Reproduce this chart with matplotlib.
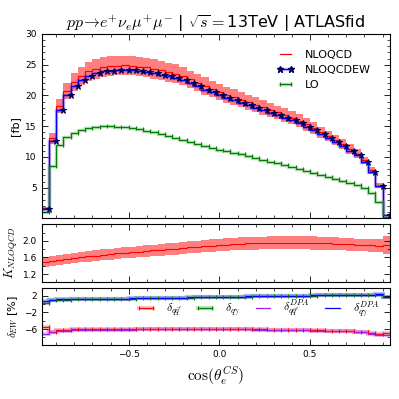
import numpy as np
import matplotlib
matplotlib.use("Agg")
import matplotlib.pyplot as plt
from matplotlib.lines import Line2D
from matplotlib.legend_handler import HandlerTuple
from matplotlib.ticker import MultipleLocator, FormatStrFormatter

plt.rcParams['mathtext.fontset'] = 'cm'
plt.rcParams['font.family'] = ['DejaVu Sans']

# ---------------- data ----------------
bin_edges = np.round(np.linspace(-0.98, 0.94, 49), 2)

nlo_qcd_ew = [1.5, 12.6, 17.7, 20.1, 21.5, 22.5, 23.2, 23.6, 23.9, 24.0, 24.1, 24.15,
              24.1, 24.0, 23.85, 23.65, 23.4, 23.15, 22.85, 22.5, 22.0, 21.5, 20.95, 20.5,
              20.0, 19.6, 19.2, 18.8, 18.4, 18.0, 17.6, 17.2, 16.8, 16.4, 15.95, 15.5,
              14.9, 14.4, 13.7, 13.1, 12.4, 11.8, 11.0, 10.3, 9.2, 7.6, 5.2, 0.5]

nlo_qcd = [1.7, 13.0, 18.3, 20.75, 22.2, 23.2, 23.95, 24.35, 24.65, 24.75, 24.85, 24.9,
           24.85, 24.7, 24.55, 24.35, 24.1, 23.8, 23.5, 23.15, 22.6, 22.1, 21.55, 21.05,
           20.55, 20.15, 19.75, 19.3, 18.9, 18.5, 18.05, 17.65, 17.25, 16.8, 16.35, 15.9,
           15.3, 14.75, 14.05, 13.45, 12.7, 12.1, 11.3, 10.55, 9.45, 7.8, 5.35, 0.55]

nlo_band_hi = [1.8, 13.85, 19.5, 22.1, 23.65, 24.7, 25.5, 25.95, 26.25, 26.35, 26.45, 26.5,
               26.45, 26.3, 26.15, 25.95, 25.65, 25.35, 25.05, 24.65, 24.05, 23.55, 22.95, 22.4,
               21.9, 21.45, 21.05, 20.55, 20.15, 19.7, 19.2, 18.8, 18.35, 17.9, 17.4, 16.95,
               16.3, 15.7, 14.95, 14.3, 13.5, 12.9, 12.05, 11.25, 10.05, 8.3, 5.7, 0.6]

nlo_band_lo = [1.6, 12.15, 17.1, 19.4, 20.75, 21.7, 22.4, 22.75, 23.05, 23.15, 23.25, 23.3,
               23.25, 23.1, 22.95, 22.75, 22.55, 22.25, 21.95, 21.65, 21.15, 20.65, 20.15, 19.7,
               19.2, 18.85, 18.45, 18.05, 17.65, 17.3, 16.9, 16.5, 16.15, 15.7, 15.3, 14.85,
               14.3, 13.8, 13.15, 12.6, 11.9, 11.3, 10.55, 9.85, 8.85, 7.3, 5.0, 0.5]

lo = [1.0, 8.6, 11.9, 13.2, 13.9, 14.4, 14.7, 14.9, 15.0, 15.0, 14.95, 14.85,
      14.7, 14.5, 14.3, 14.05, 13.7, 13.4, 13.1, 12.8, 12.45, 12.1, 11.8, 11.5,
      11.2, 10.95, 10.7, 10.4, 10.1, 9.85, 9.55, 9.25, 8.95, 8.65, 8.35, 8.05,
      7.7, 7.4, 7.05, 6.75, 6.4, 6.05, 5.7, 5.4, 4.9, 4.1, 2.7, 0.3]

k_factor = [1.49, 1.52, 1.545, 1.565, 1.585, 1.605, 1.625, 1.645, 1.665, 1.68, 1.695, 1.71,
            1.725, 1.74, 1.755, 1.77, 1.785, 1.80, 1.81, 1.825, 1.84, 1.855, 1.87, 1.885,
            1.90, 1.91, 1.92, 1.93, 1.94, 1.945, 1.95, 1.955, 1.96, 1.96, 1.96, 1.96,
            1.955, 1.95, 1.945, 1.94, 1.93, 1.925, 1.915, 1.905, 1.90, 1.89, 1.885, 1.90]

k_err = [0.12, 0.12, 0.12, 0.12, 0.125, 0.125, 0.125, 0.13, 0.13, 0.13, 0.13, 0.135,
         0.135, 0.135, 0.14, 0.14, 0.14, 0.14, 0.145, 0.145, 0.145, 0.145, 0.15, 0.15,
         0.15, 0.15, 0.15, 0.155, 0.155, 0.155, 0.155, 0.155, 0.16, 0.16, 0.16, 0.16,
         0.16, 0.16, 0.16, 0.155, 0.155, 0.155, 0.15, 0.15, 0.15, 0.15, 0.15, 0.21]

d_qq = [-5.6, -6.7, -6.2, -6.15, -6.1, -6.1, -6.05, -6.05, -6.0, -6.0, -6.0, -6.0,
        -6.0, -6.0, -6.0, -6.0, -6.0, -6.0, -6.0, -6.0, -6.0, -6.0, -6.0, -6.0,
        -6.0, -6.05, -6.05, -6.05, -6.1, -6.1, -6.1, -6.15, -6.15, -6.2, -6.2, -6.25,
        -6.25, -6.3, -6.3, -6.35, -6.4, -6.45, -6.5, -6.6, -6.7, -7.0, -7.3, -7.0]

d_qg = [0.3, 1.0, 1.05, 1.1, 1.12, 1.15, 1.18, 1.2, 1.23, 1.26, 1.28, 1.3,
        1.33, 1.36, 1.38, 1.41, 1.44, 1.47, 1.5, 1.53, 1.56, 1.59, 1.62, 1.65,
        1.68, 1.71, 1.74, 1.77, 1.8, 1.83, 1.86, 1.89, 1.92, 1.95, 1.98, 2.0,
        2.03, 2.06, 2.09, 2.12, 2.15, 2.17, 2.2, 2.22, 2.25, 2.27, 2.3, 1.7]

d_qq_dpa = [-7.2, -6.8, -6.4, -6.35, -6.3, -6.3, -6.25, -6.25, -6.2, -6.2, -6.2, -6.15,
            -6.15, -6.1, -6.1, -6.1, -6.1, -6.05, -6.05, -6.05, -6.05, -6.05, -6.05, -6.05,
            -6.05, -6.05, -6.1, -6.1, -6.1, -6.15, -6.15, -6.2, -6.2, -6.25, -6.25, -6.3,
            -6.3, -6.35, -6.35, -6.4, -6.45, -6.5, -6.55, -6.65, -6.75, -7.1, -7.4, -7.5]

d_qg_dpa = [0.7, 1.1, 1.12, 1.14, 1.16, 1.18, 1.21, 1.23, 1.26, 1.28, 1.31, 1.33,
            1.36, 1.38, 1.41, 1.44, 1.47, 1.5, 1.53, 1.56, 1.59, 1.62, 1.65, 1.68,
            1.71, 1.74, 1.77, 1.8, 1.83, 1.86, 1.89, 1.92, 1.95, 1.97, 2.0, 2.02,
            2.05, 2.08, 2.1, 2.13, 2.16, 2.18, 2.21, 2.23, 2.26, 2.28, 2.31, 1.75]

title = r"$pp\!\rightarrow\! e^{+}\nu_{e}\mu^{+}\mu^{-}$ | $\sqrt{s}=$13TeV | ATLASfid"

# ---------------- figure ----------------
fig = plt.figure(figsize=(3.99, 3.99), dpi=100)
ax1 = fig.add_axes([0.1045, 0.4526, 0.8725, 0.4622])
ax2 = fig.add_axes([0.1045, 0.2925, 0.8725, 0.1454])
ax3 = fig.add_axes([0.1045, 0.1346, 0.8725, 0.1429])

edges = np.asarray(bin_edges)
right = edges[1:]
PALE_LW = 3
PALE_A = 0.25
MAGENTA = '#a020f0'

def pale_line(ax, vals, color, lw=PALE_LW, alpha=PALE_A):
    ax.stairs(vals, edges, color=color, lw=lw, alpha=alpha, baseline=None)

def main_line(ax, vals, color, marker=None, ms=3, mfc=None, lw=0.9):
    ax.stairs(vals, edges, color=color, lw=lw, baseline=None)
    if marker is not None:
        ax.plot(right, vals, ls='none', marker=marker, ms=ms, color=mfc or color,
                mew=0.7, clip_on=True)

def pale_handle(color, lw=PALE_LW):
    return Line2D([], [], color=color, lw=lw, alpha=PALE_A)

# top panel
ax1.stairs(nlo_band_hi, edges, baseline=nlo_band_lo, fill=True, color='red', alpha=0.5, lw=0)
main_line(ax1, nlo_qcd, 'red')
pale_line(ax1, nlo_qcd_ew, 'blue', lw=2.5)
main_line(ax1, nlo_qcd_ew, 'blue', marker='*', ms=4.5, mfc='#000060')
pale_line(ax1, lo, 'green', lw=2.5)
main_line(ax1, lo, 'green', marker='|', ms=3.5)

h_nlo = Line2D([], [], color='red', lw=0.9)
h_ew = (pale_handle('blue', 2.5),
        Line2D([], [], color='blue', lw=0.9, marker='*', ms=4.5, mfc='#000060', mec='#000060'))
h_lo = (pale_handle('green', 2.5),
        Line2D([], [], color='green', lw=0.9, marker='|', ms=3.5, mew=0.7))
ax1.legend([h_nlo, h_ew, h_lo], ['NLOQCD', 'NLOQCDEW', 'LO'], numpoints=2,
           handler_map={tuple: HandlerTuple(ndivide=1, pad=0)},
           loc='upper right', bbox_to_anchor=(0.975, 0.97), frameon=False, fontsize=8,
           handlelength=1.6, handletextpad=1.0, labelspacing=0.45)
ax1.set_xlim(edges[0], edges[-1])
ax1.set_ylim(0, 30)
ax1.set_yticks([5, 10, 15, 20, 25, 30])
ax1.yaxis.set_minor_locator(MultipleLocator(1))
ax1.set_ylabel('[fb]', fontsize=8)
ax1.set_title(title, fontsize=11.5, pad=3)
ax1.tick_params(labelbottom=False)

# K-factor panel
k_arr = np.asarray(k_factor)
kerr = np.asarray(k_err)
ax2.stairs(k_arr + kerr, edges, baseline=k_arr - kerr, fill=True, color='red', alpha=0.5, lw=0)
main_line(ax2, k_factor, 'red', lw=0.8)
ax2.set_xlim(edges[0], edges[-1])
ax2.set_ylim(1.0, 2.4)
ax2.set_yticks([1.2, 1.6, 2.0])
ax2.yaxis.set_major_formatter(FormatStrFormatter('%.1f'))
ax2.yaxis.set_minor_locator(MultipleLocator(0.2))
ax2.set_ylabel(r'$K_{NLOQCD}$', fontsize=9)
ax2.tick_params(labelbottom=False)

# delta EW panel
pale_line(ax3, d_qq, 'red')
main_line(ax3, d_qq, 'red', marker='|', ms=3.5)
pale_line(ax3, d_qg, 'green')
main_line(ax3, d_qg, 'green', marker='|', ms=3.5)
pale_line(ax3, d_qq_dpa, MAGENTA)
main_line(ax3, d_qq_dpa, MAGENTA)
pale_line(ax3, d_qg_dpa, 'blue')
main_line(ax3, d_qg_dpa, 'blue')

hd = [(pale_handle('red'), Line2D([], [], color='red', lw=0.9, marker='|', ms=3.5, mew=0.7)),
      (pale_handle('green'), Line2D([], [], color='green', lw=0.9, marker='|', ms=3.5, mew=0.7)),
      Line2D([], [], color=MAGENTA, lw=0.9),
      Line2D([], [], color='blue', lw=0.9)]
ax3.legend(hd, [r"$\delta_{q\bar{q}'}$", r"$\delta_{q\gamma}$",
                r"$\delta_{q\bar{q}'}^{DPA}$", r"$\delta_{q\gamma}^{DPA}$"],
           handler_map={tuple: HandlerTuple(ndivide=1, pad=0)}, numpoints=2,
           ncol=4, loc='center right', bbox_to_anchor=(1.0, 0.64), frameon=False,
           fontsize=8.5, handlelength=1.8, handletextpad=0.8, columnspacing=1.0)
ax3.set_xlim(edges[0], edges[-1])
ax3.set_ylim(-9.9, 3.8)
ax3.set_yticks([-6, -2, 2])
ax3.yaxis.set_minor_locator(MultipleLocator(2))
ax3.set_ylabel(r'$\delta_{EW}$ [%]', fontsize=8)
ax3.set_xlabel(r'$\cos(\theta_e^{CS})$', fontsize=11)

for ax in (ax1, ax2, ax3):
    ax.xaxis.set_major_locator(MultipleLocator(0.5))
    ax.xaxis.set_minor_locator(MultipleLocator(0.1))
    ax.tick_params(which='both', direction='in', top=True, right=True, labelsize=6.5)
    ax.tick_params(which='major', length=4, width=0.6)
    ax.tick_params(which='minor', length=2, width=0.5)
    ax.yaxis.set_label_coords(-0.062, 0.5)
    for s in ax.spines.values():
        s.set_linewidth(0.8)

fig.savefig('out.png', dpi=100)
